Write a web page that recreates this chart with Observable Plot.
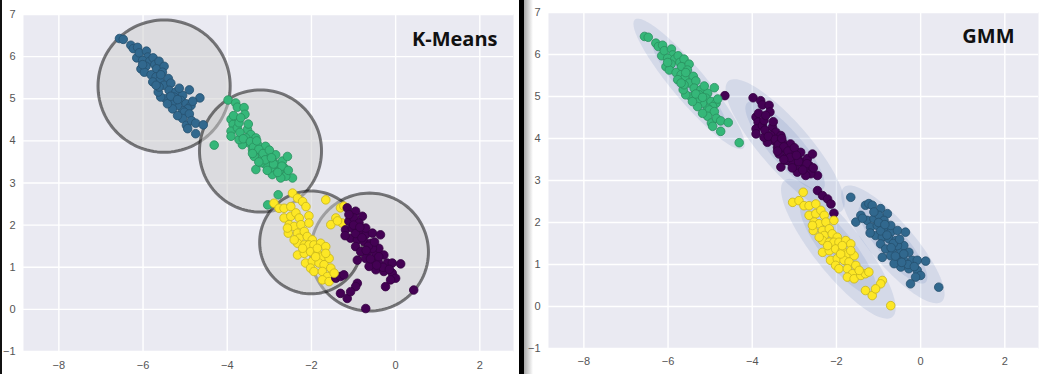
<!DOCTYPE html>
<html>
<head>
<meta charset="utf-8">
<script src="https://cdn.jsdelivr.net/npm/d3@7"></script>
<script src="https://cdn.jsdelivr.net/npm/@observablehq/plot@0.6"></script>
<style>
html, body { margin: 0; padding: 0; background: #fff; }
#wrap { position: relative; width: 1047px; height: 374px; overflow: hidden; background: #fff; }
.panel { position: absolute; top: 0; width: 522px; height: 374px; }
.panel svg { display: block; }
#sep { position: absolute; left: 519px; top: 0; width: 5px; height: 374px; background: #000; }
#sepShade { position: absolute; left: 524px; top: 0; width: 9px; height: 374px; background: linear-gradient(to right, #a8a8a8, #ffffff); }
#leftEdge { position: absolute; left: 0; top: 0; width: 2px; height: 374px; background: #111; }
</style>
</head>
<body>
<div id="wrap">
  <div id="sepShade"></div>
  <div id="left" class="panel" style="left:0px"></div>
  <div id="right" class="panel" style="left:525px"></div>
  <div id="leftEdge"></div>
  <div id="sep"></div>
</div>
<script>
// ---- axes ----
const xTicks = [-8, -6, -4, -2, 0, 2];
const yTicks = [-1, 0, 1, 2, 3, 4, 5, 6, 7];
const xDomain = [-8.84, 2.80];
const yDomain = [-1, 7];

// ---- data points, grouped by GMM component ----
const compTopLeft = [
  [-6.56,6.43],[-6.47,6.41],[-6.29,6.27],[-6.23,6.19],[-6.13,6.22],[-6.15,5.97],[-6.09,6.09],[-5.92,6.13],
  [-5.89,5.99],[-6.01,5.91],[-5.84,5.89],[-5.76,5.97],[-5.72,5.81],[-5.62,5.89],[-5.68,5.71],[-5.50,5.77],
  [-5.54,5.63],[-5.93,5.77],[-6.05,5.71],[-5.97,5.63],[-5.81,5.57],[-5.69,5.52],[-5.60,5.44],[-5.40,5.48],
  [-5.50,5.32],[-5.34,5.37],[-5.38,5.20],[-5.22,5.16],[-5.26,5.04],[-5.06,5.08],[-4.90,5.21],[-5.10,4.96],
  [-4.98,4.88],[-4.86,4.84],[-4.94,4.76],[-5.06,4.72],[-5.18,4.84],[-5.30,4.92],[-5.46,5.00],[-5.58,5.04],
  [-5.64,5.16],[-5.62,5.28],[-5.77,5.40],[-5.69,5.32],[-5.02,4.68],[-4.90,4.64],[-5.06,4.53],[-4.97,4.37],
  [-4.85,4.48],[-4.75,4.42],[-4.57,4.38],[-4.75,4.17],[-4.94,4.29],[-5.18,4.60],[-5.30,4.76],[-5.42,4.88],
  [-4.31,3.90],[-6.01,5.81],[-5.58,5.57],[-5.34,5.06],[-5.14,5.25],[-4.82,4.94],[-5.18,4.98]
];
const compMiddle = [
  [-4.65,5.02],[-3.98,4.97],[-3.80,4.90],[-3.76,4.80],[-3.60,4.79],[-3.58,4.63],[-3.91,4.51],[-3.86,4.39],
  [-3.91,4.23],[-3.91,4.11],[-3.76,4.31],[-3.72,4.43],[-3.52,4.27],[-3.44,4.15],[-3.56,4.07],[-3.48,3.95],
  [-3.32,4.07],[-3.28,3.91],[-3.40,3.79],[-3.20,3.75],[-3.09,3.87],[-3.05,3.67],[-3.16,3.60],[-2.93,3.56],
  [-2.85,3.67],[-2.81,3.44],[-2.69,3.52],[-2.57,3.63],[-2.65,3.36],[-2.77,3.28],[-2.93,3.20],[-2.97,3.36],
  [-3.09,3.44],[-3.32,3.32],[-2.45,3.12],[-2.61,3.16],[-2.73,3.12],[-3.20,3.48],[-3.36,3.63],[-3.64,3.91],
  [-3.72,4.03],[-2.45,2.76],[-2.33,2.64],[-2.21,2.56],[-2.13,2.44],[-2.06,2.22],
  [-3.70,4.20],[-3.62,4.05],[-3.45,3.98],[-3.38,3.85],[-3.25,3.80],[-3.15,3.70],[-3.00,3.78],[-2.90,3.45],
  [-3.05,3.30],[-2.70,3.40],[-2.55,3.30],[-3.50,4.40],[-3.85,4.60],[-3.68,4.55],[-3.30,4.00],[-3.10,3.55],
  [-2.95,3.60],[-2.80,3.25],[-3.40,3.70],[-3.25,3.50]
];
const compLower = [
  [-2.79,2.72],[-3.04,2.48],[-2.89,2.52],[-2.77,2.40],[-2.65,2.40],[-2.49,2.44],[-2.65,2.17],[-2.49,2.21],
  [-2.37,2.29],[-2.29,2.17],[-2.53,2.01],[-2.55,1.81],[-2.41,1.97],[-2.25,2.01],[-2.06,2.05],[-2.33,1.81],
  [-2.17,1.85],[-2.29,1.69],[-2.10,1.73],[-1.98,1.65],[-2.33,1.57],[-2.17,1.53],[-2.06,1.53],[-1.94,1.53],
  [-1.78,1.57],[-1.66,1.49],[-2.33,1.29],[-2.17,1.33],[-2.02,1.37],[-1.86,1.33],[-1.74,1.25],[-1.58,1.21],
  [-2.14,1.10],[-1.98,1.14],[-1.82,1.10],[-1.70,1.06],[-1.54,0.98],[-2.02,0.98],[-1.94,0.90],[-1.74,0.90],
  [-1.62,0.78],[-1.74,0.70],[-1.58,0.66],[-1.42,0.74],[-1.31,0.78],[-1.46,0.86],[-1.23,0.82],[-0.91,0.62],
  [-0.95,0.54],[-1.31,0.38],[-1.15,0.26],[-1.07,0.42],[-0.71,0.02],[-2.41,1.65],[-2.57,1.93],[-2.21,1.45],
  [-1.90,1.25],[-1.66,1.33],[-1.86,1.45]
];
const compRight = [
  [-1.66,2.60],[-1.31,2.41],[-1.23,2.45],[-1.15,2.41],[-0.95,2.33],[-0.79,2.21],[-1.42,2.17],[-1.54,2.01],
  [-1.27,2.05],[-1.11,2.09],[-0.99,2.17],[-0.87,2.05],[-1.19,1.89],[-1.03,1.93],[-0.87,1.85],[-0.71,1.77],
  [-0.55,1.81],[-0.36,1.77],[-1.07,1.69],[-0.91,1.65],[-0.75,1.61],[-0.59,1.57],[-0.95,1.49],[-0.83,1.37],
  [-0.67,1.37],[-0.47,1.33],[-0.28,1.29],[-0.91,1.17],[-0.71,1.21],[-0.55,1.13],[-0.40,1.10],[-0.20,1.10],
  [-0.08,1.10],[0.12,1.08],[-0.47,0.94],[-0.28,0.90],[-0.08,0.86],[0.00,0.74],[-0.12,0.70],[-0.24,0.54],
  [0.43,0.46],[-0.63,1.02],[-0.40,1.45],[-0.55,1.45],[-0.71,1.93],[-1.11,2.25],[-1.38,2.10],[-1.20,1.75],
  [-0.95,1.80],[-0.80,1.70],[-0.65,1.50],[-0.50,1.60],[-0.40,1.25],[-0.60,1.20],[-0.30,1.00],[-0.15,0.95],
  [-1.00,2.00],[-0.85,1.95],[-0.70,1.40],[-0.45,1.05]
];

// ---- K-Means: cluster centres and circle radii (colour index order: purple, blue, green, yellow) ----
const kmCenters = [[-0.62, 1.36], [-5.50, 5.30], [-3.21, 3.76], [-2.01, 1.59]];
const kmRadii = [1.40, 1.57, 1.45, 1.22];

// ---- GMM: component means, 3-sigma semi-axes and angle (colour index order: purple, blue, green, yellow) ----
const gmmMeans = [[-3.22, 3.82], [-0.66, 1.48], [-5.50, 5.30], [-1.955, 1.375]];
const gmmSemiMajor = [2.05, 1.79, 2.00, 2.07];
const gmmSemiMinor = [0.58, 0.52, 0.40, 0.58];
const gmmAngle = [-49, -49.5, -50, -51.7];

// ---- colours ----
const palette = ["#440154", "#31688e", "#35b779", "#fde725"];
const edges = palette.map(c => d3.color(c).darker(0.7).formatHex());

// ---- derived ----
const groups = [compMiddle, compRight, compTopLeft, compLower]; // index = GMM colour index
const points = groups.flatMap((g, gi) => g.map(([x, y]) => ({x, y, gmm: gi})));
points.forEach(p => {
  let best = 0, bd = Infinity;
  kmCenters.forEach(([cx, cy], i) => { const d = Math.hypot(p.x - cx, p.y - cy); if (d < bd) { bd = d; best = i; } });
  p.km = best;
});

function ellipse(cx, cy, a, b, deg, id) {
  const t = deg * Math.PI / 180, c = Math.cos(t), s = Math.sin(t);
  return d3.range(121).map(i => {
    const th = i / 120 * 2 * Math.PI, u = a * Math.cos(th), v = b * Math.sin(th);
    return {x: cx + u * c - v * s, y: cy + u * s + v * c, id};
  });
}
const circles = kmCenters.flatMap((c, i) => ellipse(c[0], c[1], kmRadii[i], kmRadii[i], 0, "c" + i));
const ellipses = gmmMeans.flatMap((m, i) => [1, 2, 3].flatMap(n =>
  ellipse(m[0], m[1], gmmSemiMajor[i] * n / 3, gmmSemiMinor[i] * n / 3, gmmAngle[i], "e" + i + "-" + n)));

function panel({marginTop, marginBottom, shapeMark, key, title, tdx, tdy, xPad}) {
  return Plot.plot({
    width: 522, height: 374,
    marginLeft: 23, marginRight: 9, marginTop, marginBottom,
    x: {domain: xDomain, label: null},
    y: {domain: yDomain, label: null},
    color: {type: "identity"},
    style: {fontFamily: "'Liberation Sans', Arial, sans-serif", fontSize: "11px", color: "#555", background: "transparent", overflow: "visible"},
    marks: [
      Plot.frame({fill: "#eaeaf2", stroke: "none"}),
      Plot.gridX(xTicks, {stroke: "#ffffff", strokeOpacity: 1, strokeWidth: 1.4}),
      Plot.gridY(yTicks, {stroke: "#ffffff", strokeOpacity: 1, strokeWidth: 1.4}),
      shapeMark,
      Plot.dot(points, {x: "x", y: "y", r: 4.3, fill: d => palette[d[key]], stroke: d => edges[d[key]], strokeWidth: 0.8, fillOpacity: 1}),
      Plot.axisX(xTicks, {tickSize: 0, tickPadding: xPad, fontSize: 11}),
      Plot.axisY(yTicks, {tickSize: 0, tickPadding: 8, fontSize: 11}),
      Plot.text([title], {text: d => d, frameAnchor: "top-right", textAnchor: "end", lineAnchor: "top", dx: tdx, dy: tdy,
        fontFamily: "'Open Sans', sans-serif", fontWeight: 700, fontSize: 20, fill: "#111"})
    ]
  });
}

document.getElementById("left").append(panel({
  marginTop: 14, marginBottom: 23, key: "km", title: "K-Means", tdx: -16, tdy: 17, xPad: 10,
  shapeMark: Plot.line(circles, {x: "x", y: "y", z: "id", fill: "#cccccc", fillOpacity: 0.5, stroke: "#000", strokeOpacity: 0.5, strokeWidth: 3})
}));
document.getElementById("right").append(panel({
  marginTop: 12, marginBottom: 26, key: "gmm", title: "GMM", tdx: -24, tdy: 16, xPad: 9,
  shapeMark: Plot.line(ellipses, {x: "x", y: "y", z: "id", fill: "#4c72b0", fillOpacity: 0.14, stroke: "none"})
}));
</script>
</body>
</html>
